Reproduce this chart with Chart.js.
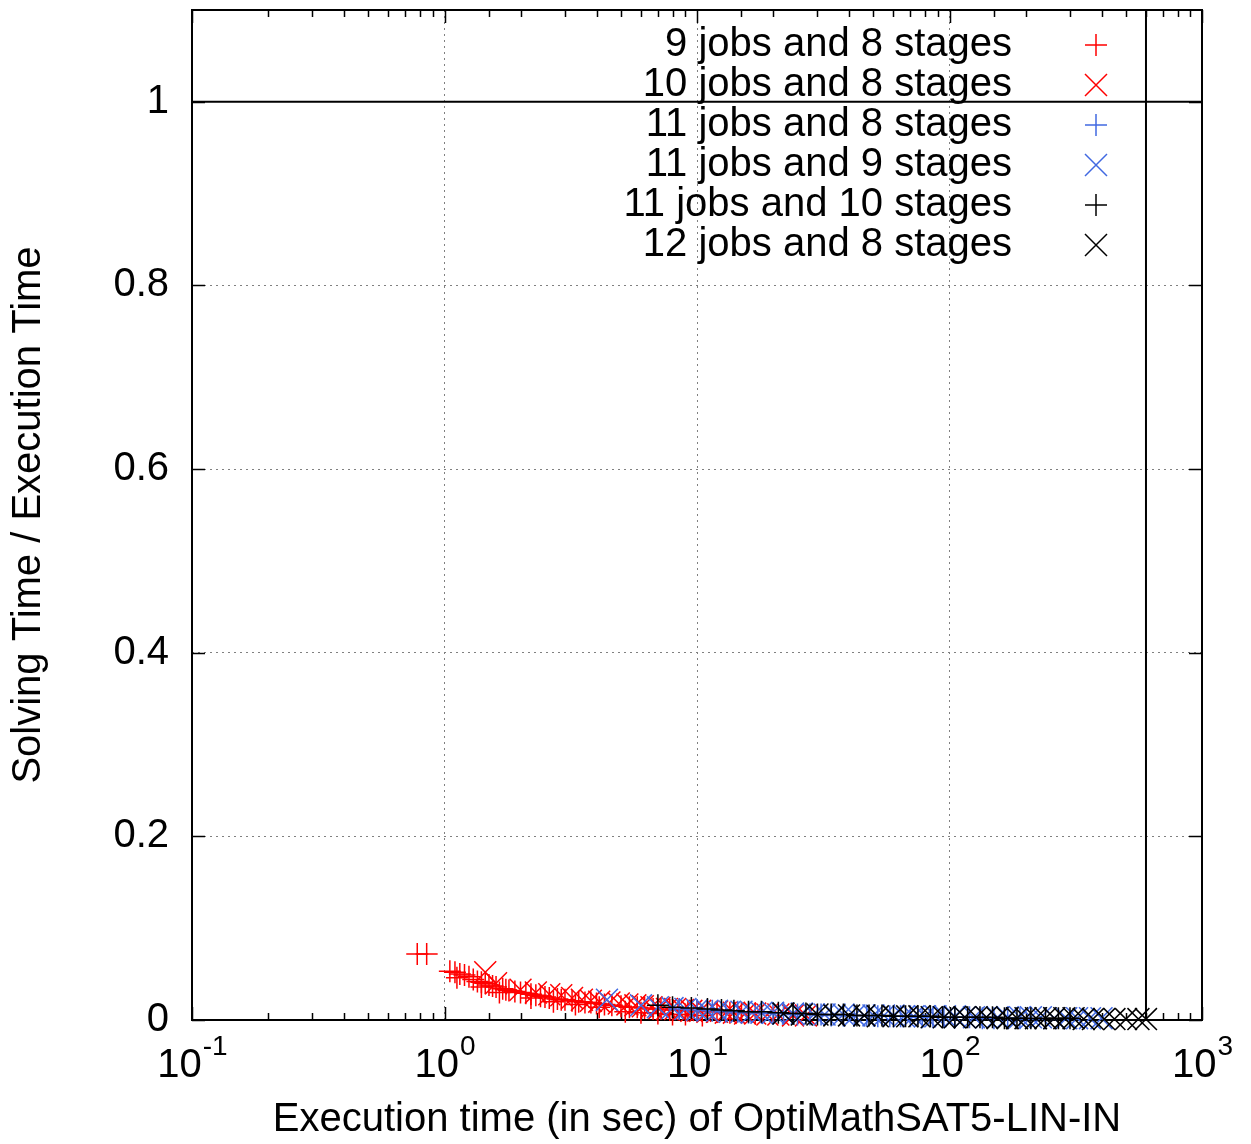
<!DOCTYPE html>
<html><head><meta charset="utf-8">
<script src="https://cdn.jsdelivr.net/npm/chart.js@4/dist/chart.umd.min.js"></script>
<style>html,body{margin:0;padding:0;background:#fff}#wrap{width:1251px;height:1144px}</style>
</head><body><div id="wrap"><canvas id="c" width="1251" height="1144"></canvas></div>
<script>
// ---- data ----
const seriesNames = ["9 jobs and 8 stages","10 jobs and 8 stages","11 jobs and 8 stages","11 jobs and 9 stages","11 jobs and 10 stages","12 jobs and 8 stages"];
const seriesColors = ["#ff0000","#ff0000","#4169e1","#4169e1","#000000","#000000"];
const seriesStyles = ["cross","crossRot","cross","crossRot","cross","crossRot"];

const j9s8X = [0.78,0.85,1.05,1.1,1.15,1.2,1.25,1.3,1.35,1.4,1.45,1.5,1.55,1.6,1.7,1.75,1.8,1.9,2.0,2.1,2.2,2.3,2.4,2.5,2.6,2.8,2.9,3.0,3.2,3.4,3.6,3.8,4.0,4.3,4.6,5.0,5.4,5.8,6.2,6.7,7.2,7.8,8.5,9.2,10,11,12,13.5,15,17,5.2,6.0,7.0,8.0,9.0,10.5,1.12,1.4,1.65,2.2,2.7,3.3,4.1];
const j9s8Y = [0.072,0.072,0.053,0.052,0.050,0.049,0.047,0.044,0.042,0.041,0.040,0.038,0.037,0.036,0.034,0.033,0.032,0.031,0.030,0.029,0.028,0.027,0.026,0.025,0.024,0.023,0.022,0.022,0.021,0.020,0.019,0.019,0.018,0.017,0.016,0.015,0.014,0.014,0.013,0.012,0.012,0.011,0.011,0.010,0.010,0.009,0.009,0.008,0.008,0.007,0.009,0.008,0.007,0.006,0.006,0.005,0.046,0.036,0.030,0.024,0.020,0.017,0.014];

const j10s8X = [1.45,1.6,2.0,2.3,2.6,2.9,3.2,3.5,3.8,4.1,4.5,4.9,5.3,5.7,6.1,6.6,7.1,7.6,8.2,8.8,9.5,10.3,11,12,13,14,15.5,17,19,21,24,27];
const j10s8Y = [0.052,0.040,0.033,0.030,0.028,0.027,0.024,0.022,0.021,0.020,0.019,0.018,0.017,0.016,0.015,0.014,0.013,0.012,0.012,0.011,0.010,0.010,0.009,0.009,0.008,0.008,0.007,0.007,0.006,0.006,0.005,0.005];

const j11s8X = [8.5,10,11.5,13,14.5,16,18,20,22,25,28,31,34,38,42,47,52,58,64,70,78,86,95,105,120,135,150,170,190];
const j11s8Y = [0.012,0.011,0.010,0.009,0.009,0.008,0.008,0.007,0.007,0.006,0.006,0.006,0.005,0.005,0.005,0.005,0.004,0.004,0.004,0.004,0.003,0.003,0.003,0.003,0.003,0.002,0.002,0.002,0.002];

const j11s9X = [4.4,6,7,8,9,10,11,12,13.5,15,16.5,18,20,22,24,26,29,32,35,38,42,46,50,55,60,66,72,80,88,96,105,115,125,140,155,170,190,210,230,260,290,320,360,400];
const j11s9Y = [0.022,0.016,0.014,0.013,0.012,0.011,0.010,0.010,0.009,0.009,0.008,0.008,0.008,0.007,0.007,0.007,0.006,0.006,0.006,0.006,0.005,0.005,0.005,0.005,0.005,0.004,0.004,0.004,0.004,0.004,0.004,0.003,0.003,0.003,0.003,0.003,0.003,0.003,0.003,0.002,0.002,0.002,0.002,0.002];

const j11s10X = [7,8,9.5,11,12.5,14,16,18,21,24,27,30,34,38,43,48,54,60,67,75,84,94,105,118,132,148,165,185,210,240,270,300];
const j11s10Y = [0.016,0.014,0.013,0.012,0.011,0.010,0.009,0.009,0.008,0.007,0.007,0.006,0.006,0.006,0.005,0.005,0.005,0.004,0.004,0.004,0.004,0.003,0.003,0.003,0.003,0.003,0.002,0.002,0.002,0.002,0.002,0.002];

const j12s8X = [22,26,30,35,40,46,52,60,68,76,85,95,105,115,128,140,155,170,185,200,220,240,260,285,310,340,370,410,450,500,560,600];
const j12s8Y = [0.007,0.006,0.006,0.005,0.005,0.005,0.004,0.004,0.004,0.004,0.003,0.003,0.003,0.003,0.003,0.003,0.002,0.002,0.002,0.002,0.002,0.002,0.002,0.002,0.002,0.001,0.001,0.001,0.001,0.001,0.001,0.001];

const xTickExponents = [-1,0,1,2,3];
const yTicks = [0,0.2,0.4,0.6,0.8,1];
const xMin = 0.1, xMax = 1000, yMin = 0, yMax = 1.1;
const refLineY = 1;
const timeoutX = 600;

// ---- build ----
const FONT = '"Liberation Sans", Arial, Helvetica, sans-serif';
const seriesX = [j9s8X,j10s8X,j11s8X,j11s9X,j11s10X,j12s8X];
const seriesY = [j9s8Y,j10s8Y,j11s8Y,j11s9Y,j11s10Y,j12s8Y];
const pts = (xs, ys) => xs.map((x,i)=>({x:x,y:ys[i]}));

const datasets = seriesNames.map((name,i)=>({
  label: name,
  data: pts(seriesX[i], seriesY[i]),
  pointStyle: seriesStyles[i],
  pointRadius: seriesStyles[i]==='cross' ? 11 : 15.5,
  pointBorderWidth: 1.5,
  borderColor: seriesColors[i],
  backgroundColor: seriesColors[i],
  showLine: false,
  clip: false,
  order: 10 - i
}));
datasets.push({label:'ref', data:[{x:xMin,y:refLineY},{x:xMax,y:refLineY}], showLine:true, borderColor:'#000', borderWidth:2, pointRadius:0, order: 20});
datasets.push({label:'timeout', data:[{x:timeoutX,y:yMin},{x:timeoutX,y:yMax}], showLine:true, borderColor:'#000', borderWidth:2, pointRadius:0, order: 20});

const isMajor = v => { const l = Math.log10(v); return Math.abs(l-Math.round(l))<1e-9; };

const framePlugin = {
  id:'frame',
  beforeDatasetsDraw(chart){
    const ctx = chart.ctx, xs = chart.scales.x, ys = chart.scales.y;
    const {left,right,top,bottom} = chart.chartArea;
    ctx.save();
    ctx.strokeStyle = '#000';
    ctx.lineWidth = 1.5;
    ctx.beginPath();
    xs.ticks.forEach(t=>{
      const v = t.value; const px = Math.round(xs.getPixelForValue(v))+0.5;
      const len = isMajor(v) ? 13 : 7;
      ctx.moveTo(px,bottom); ctx.lineTo(px,bottom-len);
      ctx.moveTo(px,top); ctx.lineTo(px,top+len);
    });
    yTicks.forEach(v=>{
      const py = Math.round(ys.getPixelForValue(v))+0.5;
      ctx.moveTo(left,py); ctx.lineTo(left+13,py);
      ctx.moveTo(right,py); ctx.lineTo(right-13,py);
    });
    ctx.stroke();
    ctx.lineWidth = 2;
    ctx.strokeRect(left,top,right-left,bottom-top);
    ctx.restore();
  },
  afterDraw(chart){
    const ctx = chart.ctx, xs = chart.scales.x;
    ctx.save();
    ctx.fillStyle = '#000';
    ctx.textBaseline = 'alphabetic';
    ctx.textAlign = 'left';
    xTickExponents.forEach(e=>{
      const px = xs.getPixelForValue(Math.pow(10,e));
      ctx.font = '40px ' + FONT;
      const w1 = ctx.measureText('10').width;
      ctx.font = '28px ' + FONT;
      const w2 = ctx.measureText(String(e)).width;
      const x0 = px - (w1+w2)/2;
      ctx.font = '40px ' + FONT;
      ctx.fillText('10', x0, 1077);
      ctx.font = '28px ' + FONT;
      ctx.fillText(String(e), x0+w1+1, 1055);
    });
    // legend
    ctx.font = '40px ' + FONT;
    ctx.textAlign = 'right';
    ctx.textBaseline = 'middle';
    seriesNames.forEach((name,i)=>{
      const y = 45 + 40*i;
      ctx.fillStyle = '#000';
      ctx.fillText(name, 1012, y);
      const mx = 1096;
      ctx.strokeStyle = seriesColors[i];
      ctx.lineWidth = 1.5;
      ctx.beginPath();
      if (seriesStyles[i]==='cross'){
        ctx.moveTo(mx-11,y); ctx.lineTo(mx+11,y);
        ctx.moveTo(mx,y-11); ctx.lineTo(mx,y+11);
      } else {
        ctx.moveTo(mx-11,y-11); ctx.lineTo(mx+11,y+11);
        ctx.moveTo(mx-11,y+11); ctx.lineTo(mx+11,y-11);
      }
      ctx.stroke();
    });
    ctx.restore();
  }
};

new Chart(document.getElementById('c'), {
  type:'scatter',
  data:{datasets},
  plugins:[framePlugin],
  options:{
    responsive:false,
    animation:false,
    layout:{autoPadding:false, padding:{top:10,right:49,left:0,bottom:0}},
    plugins:{legend:{display:false},tooltip:{enabled:false}},
    scales:{
      x:{
        type:'logarithmic', min:xMin, max:xMax, position:'bottom',
        afterFit(s){ s.height = 124; s.paddingLeft = 0; s.paddingRight = 0; },
        ticks:{display:false},
        border:{display:false, dash:[2,4]},
        grid:{drawTicks:false, lineWidth:1, color: c => { const v=c.tick&&c.tick.value; return (v && isMajor(v) && v>xMin*1.01 && v<xMax*0.99) ? '#808080' : 'rgba(0,0,0,0)'; }},
        title:{display:true, text:'Execution time (in sec) of OptiMathSAT5-LIN-IN', color:'#000', font:{family:FONT, size:40}, padding:{top:0,bottom:0}}
      },
      y:{
        type:'linear', min:yMin, max:yMax,
        afterBuildTicks(s){ s.ticks = yTicks.map(v=>({value:v})); },
        afterFit(s){ s.width = 192; s.paddingTop = 0; s.paddingBottom = 0; },
        ticks:{color:'#000', font:{family:FONT, size:40}, padding:23, callback:v=>String(v)},
        border:{display:false, dash:[2,4]},
        grid:{drawTicks:false, lineWidth:1, color: c => { const v=c.tick&&c.tick.value; return (v>0.01 && v<0.99) ? '#808080' : 'rgba(0,0,0,0)'; }},
        title:{display:true, text:'Solving Time / Execution Time', color:'#000', font:{family:FONT, size:40}, padding:{top:5,bottom:0}}
      }
    }
  }
});
</script></body></html>
